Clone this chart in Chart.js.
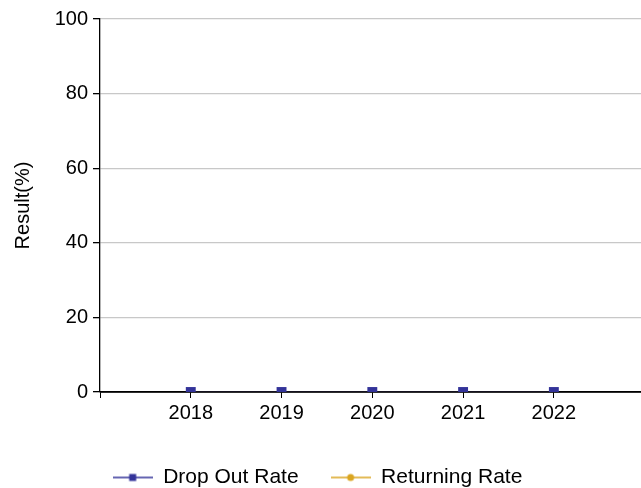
<!DOCTYPE html>
<html><head><meta charset="utf-8">
<script src="https://cdn.jsdelivr.net/npm/chart.js@4"></script>
<style>html,body{margin:0;padding:0;background:#fff}#wrap{width:641px;height:488px}</style>
</head><body><div id="wrap"><canvas id="c"></canvas></div>
<script>
const years = [2018, 2019, 2020, 2021, 2022];
const dropOutRate = [0, 0, 0, 0, 0];
const returningRate = [0, 0, 0, 0, 0];
const yTicks = [0, 20, 40, 60, 80, 100];
const seriesNames = ['Drop Out Rate', 'Returning Rate'];

const BLUE = '#333399', GOLD = '#daa520';
function legendIcon(color, shape) {
  const c = document.createElement('canvas');
  c.width = 40; c.height = 12;
  const g = c.getContext('2d');
  g.strokeStyle = color; g.lineWidth = 1.5;
  g.beginPath(); g.moveTo(0, 6); g.lineTo(40, 6); g.stroke();
  g.fillStyle = color;
  if (shape === 'rect') g.fillRect(16.5, 2.5, 7, 7);
  else { g.beginPath(); g.arc(20, 6, 3.5, 0, Math.PI * 2); g.fill(); }
  return c;
}
const icons = [legendIcon(BLUE, 'rect'), legendIcon(GOLD, 'circle')];

const shiftLegend = {
  id: 'shiftLegend',
  afterLayout(chart) { if (chart.legend) { chart.legend.left -= 3; chart.legend.right -= 3; } }
};
// redraw the x axis line above the series lines but below the markers
const axisOverLines = {
  id: 'axisOverLines',
  afterDatasetDraw(chart, args) {
    if (args.index !== 2) return;
    const ctx = chart.ctx, xs = chart.scales.x, ys = chart.scales.y;
    const y = ys.getPixelForValue(ys.min);
    ctx.save();
    ctx.strokeStyle = '#000';
    ctx.lineWidth = 1.3;
    ctx.beginPath();
    ctx.moveTo(xs.left, y);
    ctx.lineTo(xs.right, y);
    ctx.stroke();
    ctx.restore();
  }
};

Chart.defaults.font.family = '"Liberation Sans", Arial, sans-serif';
Chart.defaults.font.size = 20;
Chart.defaults.color = '#000';

const pts = (arr) => years.map((y, i) => ({x: y, y: arr[i]}));

new Chart(document.getElementById('c'), {
  type: 'line',
  plugins: [shiftLegend, axisOverLines],
  data: {
    datasets: [
      { label: seriesNames[0], data: pts(dropOutRate), order: 0, showLine: false,
        borderColor: BLUE, backgroundColor: BLUE, borderWidth: 0, pointStyle: 'rect',
        pointRadius: 7, pointHoverRadius: 7 },
      { label: seriesNames[1], data: pts(returningRate), order: 1, showLine: false,
        borderColor: GOLD, backgroundColor: GOLD, borderWidth: 0, pointStyle: 'circle',
        pointRadius: 3.5, pointHoverRadius: 3.5 },
      { label: seriesNames[0], data: pts(dropOutRate), order: 2,
        borderColor: BLUE, borderWidth: 1.5, pointRadius: 0, pointHoverRadius: 0 },
      { label: seriesNames[1], data: pts(returningRate), order: 3,
        borderColor: GOLD, borderWidth: 1.5, pointRadius: 0, pointHoverRadius: 0 }
    ]
  },
  options: {
    responsive: true, maintainAspectRatio: false, animation: false,
    layout: { autoPadding: false, padding: { top: 19, right: 0, left: 0, bottom: -10 } },
    plugins: {
      tooltip: { enabled: false },
      legend: {
        position: 'bottom',
        labels: {
          font: { size: 21 },
          usePointStyle: true, pointStyleWidth: 40, padding: 32,
          generateLabels: (chart) => seriesNames.map((name, i) => ({
            text: name, pointStyle: icons[i], datasetIndex: i,
            fillStyle: chart.data.datasets[i].borderColor, strokeStyle: chart.data.datasets[i].borderColor,
            lineWidth: 0, hidden: false
          }))
        }
      }
    },
    scales: {
      x: {
        type: 'linear', min: years[0] - 1, max: years[years.length - 1] + 0.96,
        afterBuildTicks: (s) => { s.ticks = [years[0] - 1, ...years].map(v => ({value: v})); },
        ticks: { callback: (v) => years.includes(v) ? String(v) : '', padding: 3, maxRotation: 0, autoSkip: false },
        grid: { drawOnChartArea: false, tickLength: 6, tickColor: '#000' },
        border: { color: '#000', width: 1.3 },
        afterFit: (s) => { s.height = 43; s.paddingLeft = 0; s.paddingRight = 0; }
      },
      y: {
        min: 0, max: 100,
        afterBuildTicks: (s) => { s.ticks = yTicks.map(v => ({value: v})); },
        ticks: { padding: 5 },
        grid: { color: '#c8c8c8', tickColor: '#000', tickLength: 7, lineWidth: 1.3 },
        border: { color: '#000', width: 1.3 },
        title: { display: true, text: 'Result(%)', padding: { top: 11, bottom: 14 } },
        afterFit: (s) => { s.width = 100; s.paddingTop = 0; s.paddingBottom = 0; }
      }
    }
  }
});
</script></body></html>
